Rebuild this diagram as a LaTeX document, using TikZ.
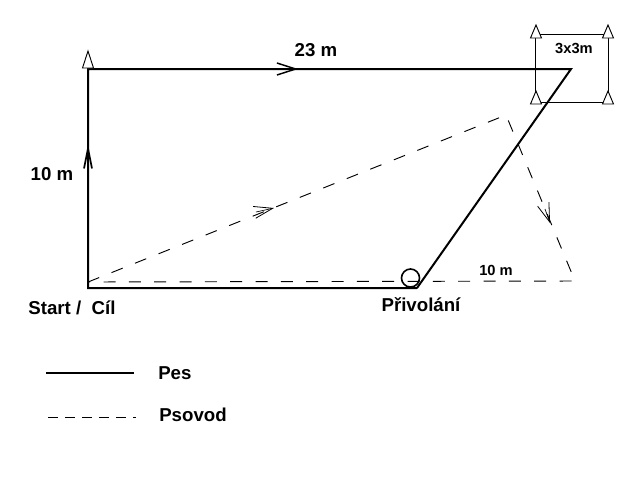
\documentclass[tikz,border=0pt]{standalone}
\usepackage{fontspec}
\setmainfont{Liberation Sans}
\usepackage{amsmath}
\usetikzlibrary{arrows.meta, positioning, calc}
\tikzset{>=Stealth}
\tikzset{
   pes/.style={line width=1.5pt},
   psovod/.style={line width=0.7pt, dash pattern=on 9pt off 10pt},
   sipka/.style={-{Straight Barb[length=14pt,width=9pt,line width=1.1pt]}, line width=0.8pt},
   popis/.style={font=\bfseries\fontsize{14}{16}\selectfont, inner sep=0pt},
   popismaly/.style={font=\bfseries\fontsize{11}{13}\selectfont, inner sep=0pt},
   kuzel/.style={line width=0.7pt, fill=white}
}

\begin{document}
\begin{tikzpicture}[x=0.75pt, y=-0.75pt]

         % Rozmery obrazku
         \useasboundingbox (0,0) rectangle (640,480);

         % Body trasy psa
         \coordinate (Start) at (88,288);
         \coordinate (Roh) at (88,69);
         \coordinate (Ctverec) at (571,69);
         \coordinate (Privolani) at (417,288);

         % Body trasy psovoda
         \coordinate (StartH) at (88,282);
         \coordinate (Vrchol) at (506,115);
         \coordinate (Konec) at (575,281);

         % Trasa psovoda (carkovane)
         \draw[psovod] (StartH) -- (Vrchol) -- (Konec) -- (StartH);

         % Trasa psa
         \draw[pes, line join=miter] (Privolani) -- (Start) -- (Roh) -- (Ctverec) -- (Privolani);

         % Ctverec 3x3m
         \coordinate (CA) at (535,34);
         \coordinate (CB) at (608,34);
         \coordinate (CC) at (608,102);
         \coordinate (CD) at (535,102);
         \draw[line width=0.75pt] (CA) -- (CB) -- (CC) -- (CD) -- cycle;
         \node[popismaly] (nazevctverce) at (574,48) {3x3m};

         % Kuzely
         \foreach \x/\y/\h in {88/68/17, 536/38/13, 608/38/13, 536/104/13, 608/104/13}
            \draw[kuzel] ({\x-5.5},\y) -- (\x,{\y-\h}) -- ({\x+5.5},\y) -- cycle;

         % Sipky na trase
         \coordinate (S1) at (277,69);
         \coordinate (S2) at (298,69);
         \draw[sipka] (S1) -- (S2);
         \coordinate (S3) at (88,168);
         \coordinate (S4) at (88,144);
         \draw[sipka, {-{Straight Barb[length=15pt,width=6pt,line width=1.3pt]}}] (S3) -- (S4);
         \coordinate (S5) at (256,212);
         \coordinate (S6) at (274,208);
         \draw[line width=0.5pt, {-{Straight Barb[length=14pt,width=9pt,line width=0.6pt]}}] (S5) -- (S6);
         \coordinate (S7) at (545,209);
         \coordinate (S8) at (550,223);
         \draw[line width=0.5pt, {-{Straight Barb[length=14pt,width=9pt,line width=0.6pt]}}] (S7) -- (S8);

         % Misto privolani
         \node[draw, circle, line width=1.2pt, minimum size=13.5pt, inner sep=0pt] (kruh) at (410.5,278) {};

         % Popisky
         \node[popis] (delka) at (316,50) {23 m};
         \node[popis] (vyska) at (52,174) {10 m};
         \node[popismaly] (zbytek) at (496,270) {10 m};
         \node[popis] (start) at (72,308) {Start /\ \ Cíl};
         \node[popis] (privolani) at (421,305) {Přivolání};

         % Legenda
         \coordinate (L1) at (46,373);
         \coordinate (L2) at (134,373);
         \draw[pes] (L1) -- (L2);
         \coordinate (L3) at (48,417);
         \coordinate (L4) at (136,417);
         \draw[psovod, dash pattern=on 7.5pt off 5.25pt] (L3) -- (L4);
         \node[popis, anchor=west] (pes) at (158,373) {Pes};
         \node[popis, anchor=west] (psovod) at (159,415) {Psovod};

      \end{tikzpicture}
\end{document}
